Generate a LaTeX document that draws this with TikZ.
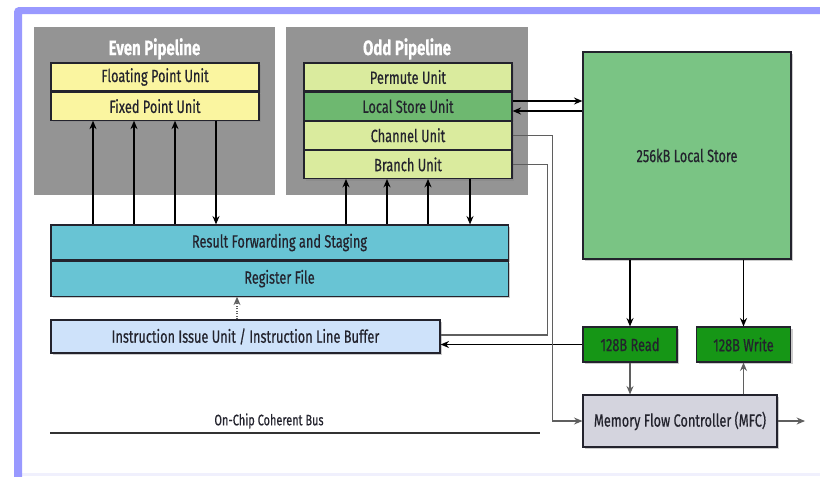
\documentclass[tikz,border=0pt]{standalone}
\usepackage{fontspec}
\setmainfont[FakeStretch=0.72,FakeBold=0.5]{Fira Sans}
\usetikzlibrary{arrows.meta,positioning,shadows}
\definecolor{framelav}{RGB}{153,153,255}
\definecolor{framepale}{RGB}{240,240,253}
\definecolor{pipegray}{RGB}{148,148,148}
\definecolor{evenyellow}{RGB}{250,245,160}
\definecolor{oddlime}{RGB}{218,235,158}
\definecolor{lsugreen}{RGB}{110,184,112}
\definecolor{storegreen}{RGB}{122,196,132}
\definecolor{regteal}{RGB}{104,196,212}
\definecolor{issueblue}{RGB}{206,226,250}
\definecolor{rwgreen}{RGB}{22,150,22}
\definecolor{mfcgray}{RGB}{212,212,222}
\definecolor{inkdark}{RGB}{35,35,45}
\definecolor{wiregray}{RGB}{95,95,95}

\begin{document}
\begin{tikzpicture}[x=0.025cm,y=-0.025cm,
      pipe/.style={rectangle,fill=pipegray,minimum width=6.025cm,minimum height=4.2cm,inner sep=0pt},
      pipetitle/.style={text=white,font=\bfseries\fontsize{14.8}{16}\selectfont,inner sep=0pt},
      unit/.style={rectangle,draw=inkdark,thick,minimum width=5.2cm,minimum height=0.7cm,inner sep=0pt,text=inkdark,font=\fontsize{12.6}{14}\selectfont,drop shadow={opacity=0.4,shadow xshift=1.5pt,shadow yshift=-1.5pt}},
      regbox/.style={unit,fill=regteal,minimum width=11.425cm,minimum height=0.875cm},
      smallbox/.style={unit,fill=rwgreen,minimum width=2.35cm,minimum height=0.875cm},
      wire/.style={wiregray,line width=0.8pt},
      bigarrow/.style={->,line width=1.3pt,black},
      >={Stealth[length=6pt,width=5pt,inset=2pt]}
    ]
    \useasboundingbox (0,0) rectangle (820,476);
    \fill[framepale] (22,473) rectangle (820,476);
    \fill[framelav] (22,480) -- (14,480) {[rounded corners=0.12cm] -- (14,7) -- (840,7)} -- (840,14) -- (22,14) -- cycle;

    \node[pipe] (even) at (154.5,111) {};
    \node[pipetitle,below=0.28cm of even.north] (eventitle) {Even Pipeline};
    \node[pipe] (odd) at (407,111) {};
    \node[pipetitle,below=0.28cm of odd.north] (oddtitle) {Odd Pipeline};

    \node[unit,fill=evenyellow] (fpu) at (155,77) {Floating Point Unit};
    \node[unit,fill=evenyellow,below=0pt of fpu] (fxu) {Fixed Point Unit};

    \node[unit,fill=oddlime] (perm) at (408,77) {Permute Unit};
    \node[unit,fill=lsugreen,below=0pt of perm] (lsu) {Local Store Unit};
    \node[unit,fill=oddlime,below=0pt of lsu] (chan) {Channel Unit};
    \node[unit,fill=oddlime,below=0pt of chan] (bra) {Branch Unit};

    \node[unit,fill=storegreen,minimum width=5.2cm,minimum height=5.175cm] (store) at (687,155.5) {256kB Local Store};

    \node[regbox] (rfs) at (279.5,242.5) {Result Forwarding and Staging};
    \node[regbox,below=0pt of rfs] (regf) {Register File};

    \node[unit,fill=issueblue,minimum width=9.725cm,minimum height=0.825cm] (issue) at (245.5,336.5) {Instruction Issue Unit / Instruction Line Buffer};

    \node[smallbox] (read) at (630,344.5) {128B Read};
    \node[smallbox] (write) at (743.5,344.5) {128B Write};
    \node[unit,fill=mfcgray,minimum width=4.85cm,minimum height=1.3cm] (mfc) at (680,421) {Memory Flow Controller (MFC)};

    \coordinate (busL) at (50,433);
    \coordinate (busR) at (540,433);
    \coordinate (mfcout) at (805,421);
    \coordinate (tap) at (237,0);
    \node[text=inkdark,font=\fontsize{10.8}{12}\selectfont] (buslabel) at (269,421) {On-Chip Coherent Bus};

    \foreach \x in {93,134,175} {
      \coordinate (col) at (\x,0);
      \draw[bigarrow] (rfs.north -| col) -- (fxu.south -| col);
    }
    \coordinate (col) at (216,0);
    \draw[bigarrow] (fxu.south -| col) -- (rfs.north -| col);
    \foreach \x in {346,387,428} {
      \coordinate (col) at (\x,0);
      \draw[bigarrow] (rfs.north -| col) -- (bra.south -| col);
    }
    \coordinate (col) at (470,0);
    \draw[bigarrow] (bra.south -| col) -- (rfs.north -| col);

    \coordinate (up) at (0,101);
    \coordinate (dn) at (0,111);
    \draw[bigarrow] (lsu.east |- up) -- (store.west |- up);
    \draw[bigarrow] (store.west |- dn) -- (lsu.east |- dn);
    \draw[bigarrow] (store.south -| read) -- (read.north);
    \draw[bigarrow] (store.south -| write) -- (write.north);
    \draw[bigarrow] (read.west) -- (read.west -| issue.east);

    \coordinate (brin) at (0,335);
    \draw[->,wire] (read.south) -- (read.south |- mfc.north);
    \draw[->,wire] (mfc.north -| write) -- (write.south);
    \draw[->,wire] (mfc.east) -- (mfcout);
    \draw[wire] (bra.east) -- ++(35,0) |- (issue.east |- brin);
    \draw[->,wire] (chan.east) -- ++(40,0) |- (mfc.west);
    \draw[->,wire,densely dotted] (issue.north -| tap) -- (regf.south -| tap);

    \draw[black!80,line width=0.9pt] (busL) -- (busR);
  \end{tikzpicture}
\end{document}
